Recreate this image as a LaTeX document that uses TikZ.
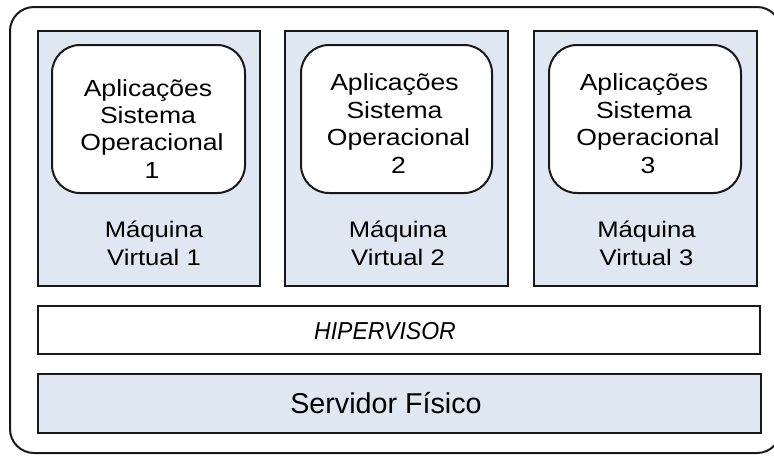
\documentclass[tikz,border=0pt]{standalone}
\usepackage{fontspec}
\setmainfont{Liberation Sans}
\newfontfamily\vmfont[FakeStretch=1.14]{Liberation Sans}
\newfontfamily\hvfont[FakeStretch=0.94]{Liberation Sans}
\definecolor{vmblue}{RGB}{222,231,242}
\definecolor{edge}{RGB}{25,25,25}
\begin{document}
\begin{tikzpicture}[x=1pt,y=-1pt,
  frame/.style={draw=edge, line width=2pt, inner sep=0pt, outer sep=0pt},
  outerbox/.style={frame, fill=white, rounded corners=24pt},
  vmbox/.style={frame, fill=vmblue},
  osbox/.style={frame, fill=white, rounded corners=28pt},
  ostext/.style={align=center, inner sep=0pt, anchor=base, font=\vmfont\fontsize{23.3}{27.4}\selectfont},
  vmtext/.style={align=center, inner sep=0pt, anchor=base, font=\vmfont\fontsize{22.5}{28}\selectfont},
  hvtext/.style={inner sep=0pt, anchor=base, font=\hvfont\itshape\fontsize{24.5}{28}\selectfont},
  srvtext/.style={inner sep=0pt, anchor=base, font=\fontsize{28.7}{32}\selectfont}]
\useasboundingbox (0,0) rectangle (774,456);
\fill[white] (0,0) rectangle (774,456);
\node[outerbox, minimum width=771pt, minimum height=446pt] (outer) at (395.5,230) {};
% virtual machines
\node[vmbox, minimum width=222pt, minimum height=255pt] (vm1) at (149,158.5) {};
\node[vmbox, minimum width=223pt, minimum height=255pt] (vm2) at (396.5,158.5) {};
\node[vmbox, minimum width=223pt, minimum height=255pt] (vm3) at (645.5,158.5) {};
\node[osbox, minimum width=193pt, minimum height=148pt] (os1) at (148.5,119) {};
\node[osbox, minimum width=191pt, minimum height=148pt] (os2) at (396.5,119) {};
\node[osbox, minimum width=192pt, minimum height=148pt] (os3) at (645,119) {};
\node[ostext] (t1) at (148,178.3) {Aplicações\\Sistema\\\hspace*{8pt}Operacional\\\hspace*{8pt}1};
\node[ostext] (t2) at (394.5,173) {Aplicações\\Sistema\\\hspace*{8pt}Operacional\\\hspace*{8pt}2};
\node[ostext] (t3) at (644,173) {Aplicações\\Sistema\\\hspace*{8pt}Operacional\\\hspace*{8pt}3};
\node[vmtext] (l1) at (154,265) {Máquina\\Virtual 1};
\node[vmtext] (l2) at (398,265) {Máquina\\Virtual 2};
\node[vmtext] (l3) at (646.5,265) {Máquina\\Virtual 3};
% hypervisor and server
\node[frame, fill=white, minimum width=722pt, minimum height=48pt] (hv) at (399,330) {};
\node[hvtext] (hvl) at (385,339) {HIPERVISOR};
\node[frame, fill=vmblue, minimum width=723pt, minimum height=59pt] (srv) at (399.5,403.5) {};
\node[srvtext] (srvl) at (386,413.3) {Servidor Físico};
\end{tikzpicture}
\end{document}
